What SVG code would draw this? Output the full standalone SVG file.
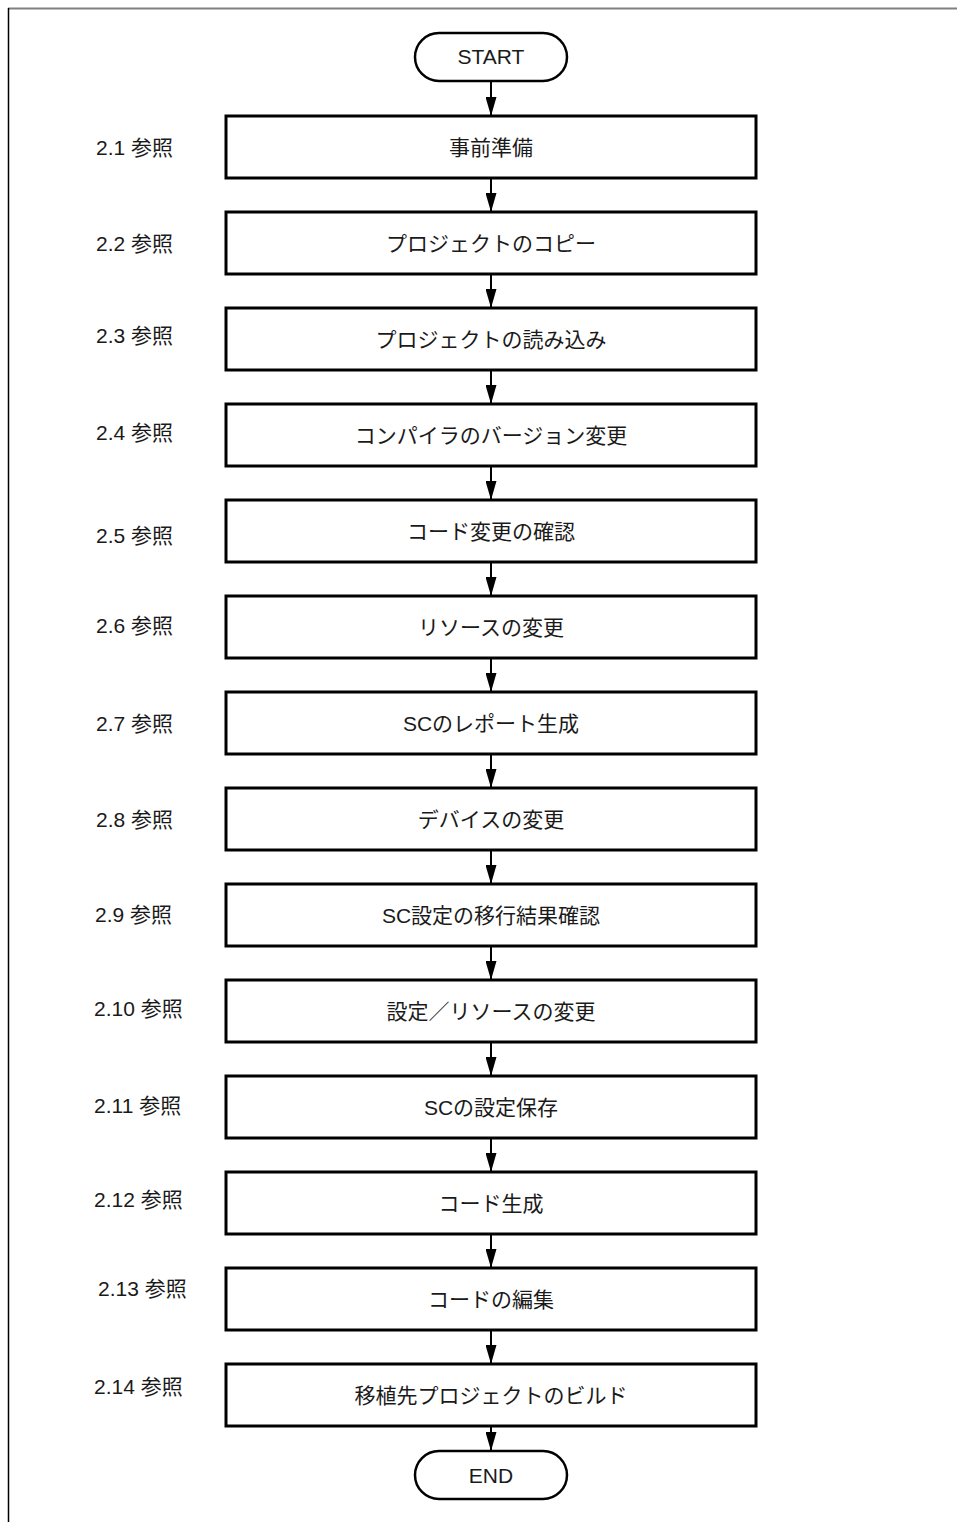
<svg xmlns="http://www.w3.org/2000/svg" width="957" height="1522" viewBox="0 0 957 1522">
<style>
text{font-family:"Liberation Sans","Noto Sans CJK JP",sans-serif;font-size:21px;fill:#1a1a1a}
.c{text-anchor:middle}
.box{fill:#fff;stroke:#000;stroke-width:3}
.term{fill:#fff;stroke:#000;stroke-width:2.5}
.ln{stroke:#000;stroke-width:2;fill:none;marker-end:url(#ah)}
</style>
<defs>
<marker id="ah" markerUnits="userSpaceOnUse" markerWidth="19" markerHeight="11" refX="19" refY="5.5" orient="auto" viewBox="0 0 19 11">
<path d="M0,0 L19,5.5 L0,11 Z" fill="#000"/>
</marker>
</defs>
<g id="frame">
<line x1="8" y1="8.5" x2="957" y2="8.5" stroke="#808080" stroke-width="2"/>
<line x1="8.5" y1="8" x2="8.5" y2="1522" stroke="#000" stroke-width="1.5"/>
</g>
<g id="connectors">
<line x1="491" y1="81" x2="491" y2="116" class="ln"/>
<line x1="491" y1="178" x2="491" y2="212" class="ln"/>
<line x1="491" y1="274" x2="491" y2="308" class="ln"/>
<line x1="491" y1="370" x2="491" y2="404" class="ln"/>
<line x1="491" y1="466" x2="491" y2="500" class="ln"/>
<line x1="491" y1="562" x2="491" y2="596" class="ln"/>
<line x1="491" y1="658" x2="491" y2="692" class="ln"/>
<line x1="491" y1="754" x2="491" y2="788" class="ln"/>
<line x1="491" y1="850" x2="491" y2="884" class="ln"/>
<line x1="491" y1="946" x2="491" y2="980" class="ln"/>
<line x1="491" y1="1042" x2="491" y2="1076" class="ln"/>
<line x1="491" y1="1138" x2="491" y2="1172" class="ln"/>
<line x1="491" y1="1234" x2="491" y2="1268" class="ln"/>
<line x1="491" y1="1330" x2="491" y2="1364" class="ln"/>
<line x1="491" y1="1426" x2="491" y2="1451" class="ln"/>
</g>
<g id="start"><rect x="415" y="33" width="152" height="48" rx="24" class="term"/><text x="491" y="64" class="c">START</text></g>
<g id="n1"><rect x="226" y="116" width="530" height="62" class="box"/><text x="491" y="155" class="c">事前準備</text><text x="96" y="155">2.1 参照</text></g>
<g id="n2"><rect x="226" y="212" width="530" height="62" class="box"/><text x="491" y="251" class="c">プロジェクトのコピー</text><text x="96" y="251">2.2 参照</text></g>
<g id="n3"><rect x="226" y="308" width="530" height="62" class="box"/><text x="491" y="347" class="c">プロジェクトの読み込み</text><text x="96" y="343">2.3 参照</text></g>
<g id="n4"><rect x="226" y="404" width="530" height="62" class="box"/><text x="491" y="443" class="c">コンパイラのバージョン変更</text><text x="96" y="440">2.4 参照</text></g>
<g id="n5"><rect x="226" y="500" width="530" height="62" class="box"/><text x="491" y="539" class="c">コード変更の確認</text><text x="96" y="543">2.5 参照</text></g>
<g id="n6"><rect x="226" y="596" width="530" height="62" class="box"/><text x="491" y="635" class="c">リソースの変更</text><text x="96" y="633">2.6 参照</text></g>
<g id="n7"><rect x="226" y="692" width="530" height="62" class="box"/><text x="491" y="731" class="c">SCのレポート生成</text><text x="96" y="731">2.7 参照</text></g>
<g id="n8"><rect x="226" y="788" width="530" height="62" class="box"/><text x="491" y="827" class="c">デバイスの変更</text><text x="96" y="827">2.8 参照</text></g>
<g id="n9"><rect x="226" y="884" width="530" height="62" class="box"/><text x="491" y="923" class="c">SC設定の移行結果確認</text><text x="95" y="922">2.9 参照</text></g>
<g id="n10"><rect x="226" y="980" width="530" height="62" class="box"/><text x="491" y="1019" class="c">設定／リソースの変更</text><text x="94" y="1016">2.10 参照</text></g>
<g id="n11"><rect x="226" y="1076" width="530" height="62" class="box"/><text x="491" y="1115" class="c">SCの設定保存</text><text x="94" y="1113">2.11 参照</text></g>
<g id="n12"><rect x="226" y="1172" width="530" height="62" class="box"/><text x="491" y="1211" class="c">コード生成</text><text x="94" y="1207">2.12 参照</text></g>
<g id="n13"><rect x="226" y="1268" width="530" height="62" class="box"/><text x="491" y="1307" class="c">コードの編集</text><text x="98" y="1296">2.13 参照</text></g>
<g id="n14"><rect x="226" y="1364" width="530" height="62" class="box"/><text x="491" y="1403" class="c">移植先プロジェクトのビルド</text><text x="94" y="1394">2.14 参照</text></g>
<g id="end"><rect x="415" y="1451" width="152" height="48" rx="24" class="term"/><text x="491" y="1483" class="c">END</text></g>
</svg>
